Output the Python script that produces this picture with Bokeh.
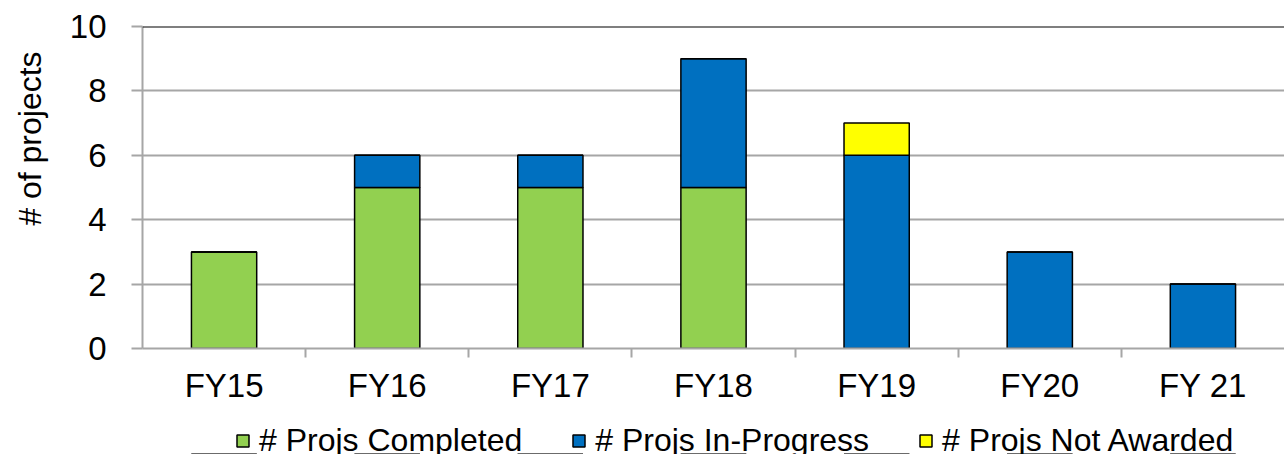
from bokeh.plotting import figure
from bokeh.layouts import column
from bokeh.models import ColumnDataSource, Range1d, FixedTicker, Span, Legend, LegendItem
from bokeh.embed import file_html
from bokeh.resources import INLINE

categories = ["FY15", "FY16", "FY17", "FY18", "FY19", "FY20", "FY 21"]
completed = [3, 5, 5, 5, 0, 0, 0]
in_progress = [0, 1, 1, 4, 6, 3, 2]
not_awarded = [0, 0, 0, 0, 1, 0, 0]
series_names = ["# Projs Completed", "# Projs In-Progress", "# Projs Not Awarded"]
colors = ["#92D050", "#0070C0", "#FFFF00"]
y_ticks = [0, 2, 4, 6, 8, 10]
y_title = "# of projects"

xpos = [i + 0.5 for i in range(len(categories))]
source = ColumnDataSource(dict(x=xpos, completed=completed,
                               in_progress=in_progress, not_awarded=not_awarded))
stack_cols = ["completed", "in_progress", "not_awarded"]

FONT = "Liberation Sans"
GRID = "#A6A6A6"

p = figure(width=1284, height=406, output_backend="svg", toolbar_location=None,
           x_range=Range1d(0, len(categories)), y_range=Range1d(0, 10),
           min_border_left=142, min_border_right=0, min_border_top=26,
           min_border_bottom=58)
p.outline_line_color = None
p.background_fill_color = "white"

p.vbar_stack(stack_cols, x="x", width=0.4, source=source, color=colors,
             line_color="black", line_width=1.5)

# x axis: labels at centers, ticks at category boundaries
xa = p.xaxis[0]
xa.ticker = FixedTicker(ticks=xpos, minor_ticks=[i for i in range(1, len(categories))])
xa.major_label_overrides = {x: c for x, c in zip(xpos, categories)}
xa.major_tick_line_color = None
xa.major_tick_out = 0
xa.major_tick_in = 0
xa.minor_tick_line_color = GRID
xa.minor_tick_line_width = 2
xa.minor_tick_out = 9
xa.minor_tick_in = 0
xa.axis_line_color = GRID
xa.axis_line_width = 2
xa.major_label_standoff = 9
xa.major_label_text_font = FONT
xa.major_label_text_font_size = "33px"
xa.major_label_text_color = "black"

ya = p.yaxis[0]
ya.ticker = FixedTicker(ticks=y_ticks, minor_ticks=[])
ya.axis_line_color = GRID
ya.axis_line_width = 2
ya.major_tick_line_color = GRID
ya.major_tick_line_width = 2
ya.major_tick_out = 11
ya.major_tick_in = 0
ya.major_label_standoff = 25
ya.major_label_text_font = FONT
ya.major_label_text_font_size = "33px"
ya.major_label_text_color = "black"
# leading no-break spaces move the centred title towards the top, as in the reference
ya.axis_label = "\u00a0" * 11 + y_title
ya.axis_label_text_font = FONT
ya.axis_label_text_font_size = "32px"
ya.axis_label_text_font_style = "normal"
ya.axis_label_text_color = "black"
ya.axis_label_standoff = 19

p.xgrid.grid_line_color = None
p.ygrid.grid_line_color = GRID
p.ygrid.grid_line_width = 2
p.add_layout(Span(location=10, dimension="width", line_color="black", line_width=2))

# legend strip below the chart (its stacked bars lie below its own y range)
pl = figure(width=1284, height=48, output_backend="svg", toolbar_location=None,
            x_range=Range1d(0, len(categories)), y_range=Range1d(100, 101),
            x_axis_location=None, y_axis_location=None,
            min_border_left=0, min_border_right=0, min_border_top=0, min_border_bottom=0)
pl.outline_line_color = None
pl.xgrid.visible = False
pl.ygrid.visible = False
leg_renderers = pl.vbar_stack(stack_cols, x="x", width=0.4, source=source, color=colors,
                              line_color="black", line_width=1.5)

lg = Legend(items=[LegendItem(label=n, renderers=[r]) for n, r in zip(series_names, leg_renderers)])
lg.orientation = "horizontal"
lg.location = (93, -5)
lg.border_line_color = None
lg.background_fill_alpha = 0
lg.padding = 0
lg.margin = 0
lg.spacing = 49
lg.glyph_width = 15
lg.glyph_height = 15
lg.label_standoff = 9
lg.label_text_font = FONT
lg.label_text_font_size = "32px"
lg.label_text_color = "black"
pl.add_layout(lg, "center")

layout = column(p, pl, spacing=0)
open("out.html", "w").write(file_html(layout, INLINE))
